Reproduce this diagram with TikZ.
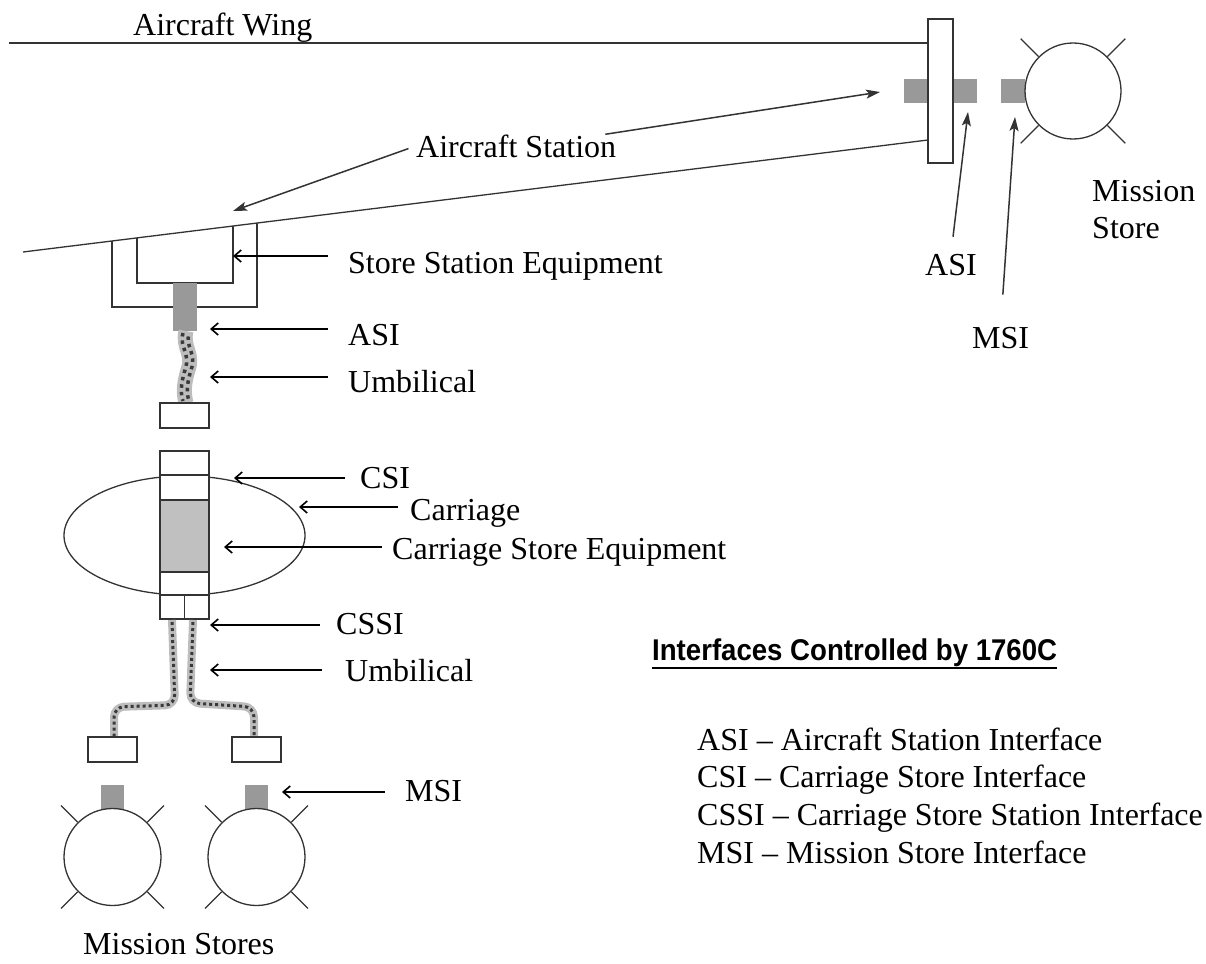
\documentclass[tikz,border=0pt]{standalone}
\usepackage{fontspec}
\setmainfont{Liberation Serif}
\newfontfamily\headfont{Liberation Sans}
\usetikzlibrary{arrows.meta,calc}
\definecolor{ink}{HTML}{333333}
\definecolor{plug}{HTML}{999999}
\definecolor{cse}{HTML}{C0C0C0}
\definecolor{cable}{HTML}{BDBDBD}
\definecolor{speck}{HTML}{3A3A3A}
\tikzset{
  lbl/.style={font=\fontsize{32}{38}\selectfont, inner sep=0pt, anchor=base west},
  part/.style={draw=ink, line width=1.3pt},
  ptr/.style={draw=black, line width=1.6pt, -{Straight Barb[length=7pt,width=12pt]}},
  slant/.style={draw=ink, line width=1.5pt, -{Stealth[length=14pt,width=9pt,inset=3pt]}},
  store/.style={circle, draw=ink, line width=1.3pt, fill=white, minimum size=97pt, inner sep=0pt},
}
\begin{document}
\begin{tikzpicture}[x=1pt, y=-1pt]
    \useasboundingbox (0,0) rectangle (1206,963);

    % wing
    \draw[part] (9,43) -- (928,43);
    \draw[part] (23,252) -- (928,140);
    \node[lbl] (wing) at (133,36) {Aircraft Wing};

    % side view
    \fill[plug] (904,79) rectangle (928,103);
    \fill[plug] (953,79) rectangle (977,103);
    \fill[plug] (1001,79) rectangle (1025,103);
    \draw[part, fill=white] (928,19) rectangle (953,163);
    \node[store, minimum size=96pt] (mstore) at (1073,91) {};
    \foreach \a in {45,135,225,315}
        \draw[part] (mstore.\a) -- ($(mstore.center)!1.52!(mstore.\a)$);

    \node[lbl] (station) at (416,157) {Aircraft Station};
    \coordinate (stwing) at (233,211);
    \coordinate (stjack) at (880,92);
    \draw[slant, shorten <=8pt] (station.west) -- (stwing);
    \draw[slant] ([xshift=-11pt]station.north east) -- (stjack);

    \node[lbl] (asiR) at (925,275) {ASI};
    \node[lbl] (msiR) at (972,348) {MSI};
    \coordinate (asiRtip) at (968,112);
    \coordinate (msiRtip) at (1015,117);
    \draw[slant, shorten <=17pt] (asiR.north) -- (asiRtip);
    \draw[slant, shorten <=32pt] (msiR.north) -- (msiRtip);

    \node[lbl] (msn) at (1092,201) {Mission};
    \node[lbl] (msnb) at (1092,238) {Store};

    % store station equipment
    \draw[part] (112,241) -- (112,307) -- (257,307) -- (257,223);
    \draw[part] (137,238) -- (137,283) -- (233,283) -- (233,226);
    \fill[plug] (173,283) rectangle (197,331);

    % umbilical (top)
    \draw[cable, line width=15pt] (186,331) .. controls (182,348) and (194,353) .. (188,370) .. controls (183,386) and (184,395) .. (186,403);
    \foreach \dx/\ph in {-3/0, 3/4}
        \draw[speck, line width=3.5pt, dash pattern=on 3.5pt off 4pt, dash phase=\ph pt, xshift=\dx pt] (186,333) .. controls (182,348) and (194,353) .. (188,370) .. controls (183,386) and (184,395) .. (186,401);
    \draw[part, fill=white] (160,403) rectangle (209,428);

    % carriage
    \draw[part] (184.5,535.5) ellipse [x radius=120.5, y radius=59.5];
    \draw[part, fill=white] (160,451) rectangle (209,619);
    \draw[part, fill=cse] (160,500) rectangle (209,572);
    \draw[ink, line width=2.6pt] (160,475) -- (209,475);
    \draw[ink, line width=2.6pt] (160,595) -- (209,595);
    \draw[part] (184.5,595) -- (184.5,619);

    % umbilicals (bottom)
    \draw[cable, line width=8pt, rounded corners=10pt] (172,620) -- (175,705) -- (114,707) -- (114,737);
    \draw[cable, line width=8pt, rounded corners=10pt] (193,620) -- (190,703) -- (254,707) -- (254,737);
    \draw[speck, line width=3pt, dash pattern=on 3pt off 3pt, rounded corners=10pt] (172,622) -- (175,705) -- (114,707) -- (114,736);
    \draw[speck, line width=3pt, dash pattern=on 3pt off 3pt, rounded corners=10pt] (193,622) -- (190,703) -- (254,707) -- (254,736);
    \draw[part, fill=white] (88,737) rectangle (137,762);
    \draw[part, fill=white] (232,737) rectangle (281,762);

    % mission stores
    \fill[plug] (101,785) rectangle (124,809);
    \fill[plug] (245,785) rectangle (268,809);
    \node[store] (ms1) at (112.5,857) {};
    \node[store] (ms2) at (256.5,857) {};
    \foreach \a in {45,135,225,315} {
        \draw[part] (ms1.\a) -- ($(ms1.center)!1.48!(ms1.\a)$);
        \draw[part] (ms2.\a) -- ($(ms2.center)!1.48!(ms2.\a)$);
    }
    \node[lbl] (msns) at (83,954) {Mission Stores};

    % labels with arrows
    \node[lbl] (sse) at (348,273) {Store Station Equipment};
    \node[lbl] (asiL) at (348,345) {ASI};
    \node[lbl] (umbA) at (348,392) {Umbilical};
    \node[lbl] (csi) at (360,488) {CSI};
    \node[lbl] (carr) at (410,520) {Carriage};
    \node[lbl] (cseq) at (392,559) {Carriage Store Equipment};
    \node[lbl] (cssi) at (336,634) {CSSI};
    \node[lbl] (umbB) at (345,681) {Umbilical};
    \node[lbl] (msiL) at (405,801) {MSI};

    \coordinate (sseTip) at (233,256);
    \coordinate (asiTip) at (210,329);
    \coordinate (umbATip) at (210,377);
    \coordinate (csiTip) at (234,478);
    \coordinate (carrTip) at (299,507);
    \coordinate (cseqTip) at (224,547);
    \coordinate (cssiTip) at (210,625);
    \coordinate (umbBTip) at (210,670);
    \coordinate (msiTip) at (282,792);

    \draw[ptr] ([xshift=-20pt, yshift=17pt]sse.base west) -- (sseTip);
    \draw[ptr] ([xshift=-20pt, yshift=16pt]asiL.base west) -- (asiTip);
    \draw[ptr] ([xshift=-20pt, yshift=15pt]umbA.base west) -- (umbATip);
    \draw[ptr] ([xshift=-15pt, yshift=10pt]csi.base west) -- (csiTip);
    \draw[ptr] ([xshift=-12pt, yshift=13pt]carr.base west) -- (carrTip);
    \draw[ptr] ([xshift=-10pt, yshift=12pt]cseq.base west) -- (cseqTip);
    \draw[ptr] ([xshift=-16pt, yshift=9pt]cssi.base west) -- (cssiTip);
    \draw[ptr] ([xshift=-23pt, yshift=11pt]umbB.base west) -- (umbBTip);
    \draw[ptr] ([xshift=-20pt, yshift=9pt]msiL.base west) -- (msiTip);

    % key
    \node[inner sep=0pt, anchor=base west, xscale=0.92, transform shape, font=\headfont\bfseries\fontsize{30}{36}\selectfont] (head) at (652,660) {Interfaces Controlled by 1760C};
    \draw[line width=2.5pt] ([yshift=-8pt]head.base west) -- ([yshift=-8pt]head.base east);
    \node[lbl] (keyasi) at (697,750) {ASI -- Aircraft Station Interface};
    \node[lbl] (keycsi) at (697,787) {CSI -- Carriage Store Interface};
    \node[lbl] (keycssi) at (697,825) {CSSI -- Carriage Store Station Interface};
    \node[lbl] (keymsi) at (697,863) {MSI -- Mission Store Interface};
\end{tikzpicture}
\end{document}
